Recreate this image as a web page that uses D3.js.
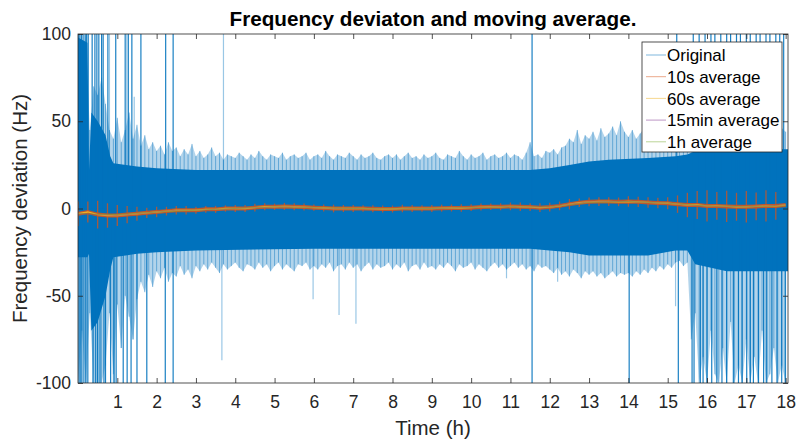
<!DOCTYPE html>
<html>
<head>
<meta charset="utf-8">
<script src="https://cdn.jsdelivr.net/npm/d3@7"></script>
<style>
  body { margin: 0; background: #fff; }
  text { font-family: "Liberation Sans", Arial, Helvetica, sans-serif; }
</style>
</head>
<body>
<script>
var w = 798;
var h = 439;

// x ticks (hours) and y ticks (Hz)
var xTicks = [1, 2, 3, 4, 5, 6, 7, 8, 9, 10, 11, 12, 13, 14, 15, 16, 17, 18];
var yTicks = [-100, -50, 0, 50, 100];

// Original signal, dense core envelope at breakpoints (h, Hz)
var coreT  = [0, 0.24, 0.28, 0.34, 0.5, 0.7, 0.82, 0.9, 1.5, 2, 3, 6, 9, 11.5, 12, 12.5, 13, 13.5, 14.5, 15.2, 15.5, 15.7, 16.5, 17.5, 18.06];
var coreHi = [98, 95, 22, 55, 50, 42, 30, 26, 24, 23, 22, 22, 22, 22, 23, 25, 27, 28, 29, 30, 31, 33, 34, 34, 34];
var coreLo = [-28, -28, -26, -70, -65, -50, -35, -28, -26, -25, -24, -23, -23, -23, -24, -25, -27, -27, -27, -24, -24, -32, -36, -36, -36];

// Original signal, outer fringe every 0.1 h (Hz)
var haloStep = 0.1;
var haloHi = [
  100, 85, 100, 45, 70, 65, 75, 60, 45, 40,
  52, 38, 45, 55, 40, 48, 36, 42, 34, 38,
  33, 36, 31, 38, 33, 35, 30, 34, 31, 37,
  30, 33, 29, 31, 35, 30, 32, 28, 31, 30,
  29, 32, 30, 28, 31, 29, 33, 30, 28, 31,
  30, 29, 32, 28, 30, 31, 29, 30, 32, 28,
  30, 31, 29, 33, 30, 28, 31, 30, 29, 32,
  30, 28, 31, 29, 30, 32, 29, 28, 30, 31,
  29, 31, 28, 30, 32, 29, 30, 28, 31, 29,
  30, 32, 29, 28, 31, 30, 29, 33, 30, 28,
  31, 29, 30, 32, 28, 30, 31, 29, 30, 32,
  29, 31, 30, 28, 32, 38, 30, 31, 29, 33,
  32, 34, 31, 35, 36, 40, 38, 45, 37, 42,
  40, 44, 39, 46, 41, 43, 47, 42, 50, 44,
  41, 45, 40, 43, 46, 41, 44, 40, 42, 45,
  40, 42, 44, 40, 43, 45, 42, 44, 41, 45,
  43, 45, 42, 44, 46, 43, 45, 42, 44, 46,
  43, 45, 44, 42, 46, 44, 45, 43, 44, 46, 44
];
var haloLo = [
  -100, -70, -100, -60, -100, -100, -100, -90, -60, -95,
  -55, -80, -50, -62, -75, -52, -42, -48, -38, -45,
  -36, -40, -34, -42, -37, -39, -33, -38, -35, -40,
  -33, -36, -32, -35, -31, -34, -37, -32, -35, -33,
  -31, -34, -36, -32, -33, -35, -31, -34, -32, -36,
  -33, -31, -35, -32, -34, -36, -32, -33, -31, -35,
  -33, -35, -32, -34, -31, -36, -33, -32, -35, -31,
  -34, -32, -36, -33, -31, -35, -32, -34, -33, -31,
  -35, -32, -34, -31, -36, -33, -32, -35, -31, -34,
  -33, -35, -32, -34, -31, -33, -36, -32, -34, -33,
  -31, -35, -32, -34, -36, -33, -31, -34, -32, -35,
  -33, -31, -34, -32, -35, -33, -36, -32, -34, -33,
  -35, -37, -34, -38, -36, -39, -35, -37, -40, -36,
  -38, -36, -39, -37, -40, -38, -36, -39, -37, -38,
  -37, -39, -36, -38, -35, -37, -34, -36, -33, -35,
  -32, -34, -31, -30, -33, -31, -75, -60, -100, -85,
  -100, -70, -95, -100, -80, -100, -65, -100, -90, -100,
  -75, -100, -85, -100, -70, -100, -95, -80, -100, -90, -100
];

// Original signal, single tall spikes [h, Hz]
var darkSpikes = [
  [0.02, 100], [0.05, 100], [0.09, 100], [0.13, 100], [0.18, 100], [0.22, 100], [0.26, 100],
  [0.36, 100], [0.43, 100], [0.48, 100], [0.53, 100], [0.6, 100], [0.64, 100], [0.76, 100],
  [0.96, 100], [1.2, 100], [1.28, 100], [1.37, 100], [1.6, 100], [2.23, 100], [2.42, 100],
  [11.55, 100], [15.23, 100], [15.65, 100], [15.8, 100], [15.95, 100], [16.1, 100], [16.2, 100],
  [16.35, 100], [16.5, 100], [16.6, 100], [16.75, 100], [16.85, 100], [17.0, 100], [17.1, 100],
  [17.25, 100], [17.35, 100], [17.5, 100], [17.6, 100], [17.75, 100], [17.85, 100], [17.95, 100],
  [0.03, -100], [0.07, -100], [0.1, -100], [0.15, -100], [0.2, -100], [0.25, -100], [0.38, -100],
  [0.45, -100], [0.5, -100], [0.56, -100], [0.66, -100], [0.7, -100], [0.83, -100], [0.92, -100],
  [0.97, -100], [1.15, -100], [1.25, -100], [1.35, -100], [1.5, -100], [1.75, -100], [2.22, -100],
  [2.42, -100], [11.55, -100], [14.02, -100], [15.27, -100], [15.62, -100], [15.67, -100],
  [15.83, -100], [15.9, -100], [16.0, -100], [16.12, -100], [16.25, -100], [16.38, -100],
  [16.5, -100], [16.67, -100], [16.8, -100], [16.89, -100], [17.01, -100], [17.1, -100],
  [17.18, -100], [17.31, -100], [17.44, -100], [17.52, -100], [17.65, -100], [17.78, -100],
  [17.9, -100], [17.99, -100]
];
var lightSpikes = [
  [0.8, 100], [1.24, 100], [1.43, 64], [3.7, 100], [1.1, -80], [1.4, -75], [0.9, -100],
  [3.66, -87], [5.98, -52], [6.64, -61], [7.07, -66], [15.2, -56], [10.9, -40], [12.2, -42]
];

// moving averages
var avgStep = 0.25;
var avg60 = [
  -3, -2, -3.5, -4, -4, -3.5, -3, -2.5, -2, -1.5, -1, -1, -1, -0.5, -0.5, 0,
  0, 0, 0.5, 1, 1, 1.2, 1, 0.8, 0.5, 0.3, 0, 0, 0, 0, -0.2, -0.3,
  -0.3, 0, 0, 0, 0, 0.2, 0.3, 0.3, 0.5, 0.8, 1, 1, 1.2, 1, 0.8, 0.5,
  0.8, 1.5, 2.5, 3.3, 3.8, 4, 4, 3.8, 4, 3.8, 3.5, 3.2, 3, 2.5, 2, 2,
  1.5, 1.5, 1.2, 1, 1, 1.2, 1.5, 1.5, 2
];
var tenSpread = [
  7, 6, 8, 7, 6, 5, 4, 3, 3, 2.5, 2.5, 2.5, 2,
  2, 2, 1.8, 2, 2, 2.2, 2, 1.8, 2, 2, 2, 1.8, 2, 2.2, 2, 2, 1.8,
  2, 2, 2, 2.2, 2, 1.8, 2, 2, 2, 2.2, 2, 2, 1.8, 2, 2.2, 2.5, 2.2,
  2.5, 2.5, 2.5, 3, 2.5, 2.5, 2.5, 2.5, 2.5, 3, 3, 3, 3, 3.5,
  5, 7, 8, 9, 8, 9, 8, 9, 8, 9, 8
];
var avg15Step = 0.5;
var avg15 = [
  -3, -3.5, -4, -3, -2, -1, -1, -0.5, 0, 0.5, 1, 1, 0.5, 0, 0, -0.2, -0.3, 0, 0,
  0.3, 0.5, 1, 1.2, 0.8, 0.8, 2.5, 3.8, 4, 4, 3.5, 3, 2, 1.5, 1.2, 1, 1.5, 2
];
var avg1h = [-3, -3.5, -2, -1, 0, 1, 0.5, 0, -0.2, 0, 0.5, 1, 0.8, 3.5, 4, 3, 1.5, 1, 1.5];

var legendNames = ["Original", "10s average", "60s average", "15min average", "1h average"];
var colors = ["#0072BD", "#D95319", "#EDB120", "#7E2F8E", "#77AC30"];

var plotL = 78, plotR = 788, plotT = 34, plotB = 383;

var x = d3.scaleLinear().domain([0, 18.06]).range([plotL, plotR]);
var y = d3.scaleLinear().domain([-100, 100]).range([plotB, plotT]);

var svg = d3.select("body").append("svg").attr("width", w).attr("height", h);
svg.append("rect").attr("width", w).attr("height", h).attr("fill", "#fff");

svg.append("clipPath").attr("id", "plot")
  .append("rect").attr("x", plotL).attr("y", plotT).attr("width", plotR - plotL).attr("height", plotB - plotT);

var g = svg.append("g").attr("clip-path", "url(#plot)");

// fringe (light blue, zig-zag between 0.1 h samples) plus thin hairs
var haloArea = d3.area()
  .x(function (d) { return x(d.t); })
  .y0(y(0))
  .y1(function (d) { return y(d.v); });
var hairs = [];
[haloHi, haloLo].forEach(function (arr) {
  var pts = arr.map(function (v, i) { return { t: i * haloStep, v: v }; });
  hairs = hairs.concat(pts);
  g.append("path")
    .datum(pts)
    .attr("d", haloArea)
    .attr("fill", colors[0])
    .attr("fill-opacity", 0.3);
});
g.selectAll("line.hair")
  .data(hairs)
  .enter()
  .append("line")
  .attr("class", "hair")
  .attr("x1", function (d) { return x(d.t); })
  .attr("x2", function (d) { return x(d.t); })
  .attr("y1", y(0))
  .attr("y2", function (d) { return y(d.v); })
  .attr("stroke", colors[0])
  .attr("stroke-width", 1)
  .attr("stroke-opacity", 0.45);

// light spikes
g.selectAll("line.light")
  .data(lightSpikes)
  .enter()
  .append("line")
  .attr("class", "light")
  .attr("x1", function (d) { return x(d[0]); })
  .attr("x2", function (d) { return x(d[0]); })
  .attr("y1", y(0))
  .attr("y2", function (d) { return y(d[1]); })
  .attr("stroke", colors[0])
  .attr("stroke-width", 1.2)
  .attr("stroke-opacity", 0.4);

// dense core
var core = coreT.map(function (t, i) { return { t: t, hi: coreHi[i], lo: coreLo[i] }; });
g.append("path")
  .datum(core)
  .attr("d", d3.area()
    .x(function (d) { return x(d.t); })
    .y0(function (d) { return y(d.lo); })
    .y1(function (d) { return y(d.hi); }))
  .attr("fill", colors[0]);

// tall spikes
g.selectAll("line.dark")
  .data(darkSpikes)
  .enter()
  .append("line")
  .attr("class", "dark")
  .attr("x1", function (d) { return x(d[0]); })
  .attr("x2", function (d) { return x(d[0]); })
  .attr("y1", y(0))
  .attr("y2", function (d) { return y(d[1]); })
  .attr("stroke", colors[0])
  .attr("stroke-width", 1.2)
  .attr("stroke-opacity", 0.9);

// 10s average: swing hairs + centre trace
var avgData = avg60.map(function (v, i) { return { t: i * avgStep, v: v, s: tenSpread[i] }; });
g.selectAll("line.ten")
  .data(avgData)
  .enter()
  .append("line")
  .attr("class", "ten")
  .attr("x1", function (d) { return x(d.t); })
  .attr("x2", function (d) { return x(d.t); })
  .attr("y1", function (d) { return y(d.v - d.s); })
  .attr("y2", function (d) { return y(d.v + d.s); })
  .attr("stroke", colors[1])
  .attr("stroke-width", 1.3)
  .attr("stroke-opacity", 0.75);

var line = d3.line()
  .x(function (d) { return x(d.t); })
  .y(function (d) { return y(d.v); });

g.append("path")
  .datum(avgData)
  .attr("d", line)
  .attr("fill", "none")
  .attr("stroke", colors[1])
  .attr("stroke-width", 4)
  .attr("stroke-opacity", 0.85);

// 60s average
g.append("path")
  .datum(avgData)
  .attr("d", line)
  .attr("fill", "none")
  .attr("stroke", colors[2])
  .attr("stroke-width", 1.3);

// 15min average
g.append("path")
  .datum(avg15.map(function (v, i) { return { t: i * avg15Step, v: v }; }))
  .attr("d", line)
  .attr("fill", "none")
  .attr("stroke", colors[3])
  .attr("stroke-width", 0.8)
  .attr("stroke-opacity", 0.6);

// 1h average
g.append("path")
  .datum(avg1h.map(function (v, i) { return { t: i, v: v }; }))
  .attr("d", line)
  .attr("fill", "none")
  .attr("stroke", colors[4])
  .attr("stroke-width", 0.8)
  .attr("stroke-opacity", 0.6);

// axes
var axisColor = "#262626";
function styleAxis(sel) {
  sel.select(".domain").remove();
  sel.selectAll(".tick line").attr("stroke", axisColor).attr("stroke-width", 0.8);
  sel.selectAll(".tick text")
    .attr("fill", axisColor)
    .style("font-size", "17.5px")
    .style("font-family", '"Liberation Sans", Arial, sans-serif');
}
var plainNum = function (d) { return String(d); };

svg.append("g")
  .attr("transform", "translate(0," + plotB + ")")
  .call(d3.axisBottom(x).tickValues(xTicks).tickSize(-5).tickPadding(12.5).tickFormat(plainNum))
  .call(styleAxis);
svg.append("g")
  .attr("transform", "translate(0," + plotT + ")")
  .call(d3.axisTop(x).tickValues(xTicks).tickSize(-5).tickFormat(""))
  .call(styleAxis);
svg.append("g")
  .attr("transform", "translate(" + plotL + ",0)")
  .call(d3.axisLeft(y).tickValues(yTicks).tickSize(-5).tickPadding(7).tickFormat(plainNum))
  .call(styleAxis);
svg.append("g")
  .attr("transform", "translate(" + plotR + ",0)")
  .call(d3.axisRight(y).tickValues(yTicks).tickSize(-5).tickFormat(""))
  .call(styleAxis);

svg.append("rect")
  .attr("x", plotL).attr("y", plotT)
  .attr("width", plotR - plotL).attr("height", plotB - plotT)
  .attr("fill", "none")
  .attr("stroke", axisColor)
  .attr("stroke-width", 0.8);

// title and labels
svg.append("text")
  .attr("x", (plotL + plotR) / 2)
  .attr("y", 26)
  .attr("text-anchor", "middle")
  .attr("font-size", "20.7px")
  .attr("font-weight", "bold")
  .attr("fill", "#000")
  .text("Frequency deviaton and moving average.");

svg.append("text")
  .attr("x", (plotL + plotR) / 2)
  .attr("y", 435)
  .attr("text-anchor", "middle")
  .attr("font-size", "20.5px")
  .attr("fill", axisColor)
  .text("Time (h)");

svg.append("text")
  .attr("transform", "translate(27," + (plotT + plotB) / 2 + ") rotate(-90)")
  .attr("text-anchor", "middle")
  .attr("font-size", "20.5px")
  .attr("fill", axisColor)
  .text("Frequency deviation (Hz)");

// legend
var lg = svg.append("g");
lg.append("rect")
  .attr("x", 642).attr("y", 42)
  .attr("width", 140).attr("height", 110)
  .attr("fill", "#fff")
  .attr("stroke", axisColor)
  .attr("stroke-width", 0.8);

var items = lg.selectAll("g.item")
  .data(legendNames)
  .enter()
  .append("g")
  .attr("class", "item")
  .attr("transform", function (d, i) { return "translate(0," + (55 + i * 21.7) + ")"; });

items.append("line")
  .attr("x1", 646).attr("x2", 666)
  .attr("stroke", function (d, i) { return colors[i]; })
  .attr("stroke-width", 1)
  .attr("stroke-opacity", 0.5);

items.append("text")
  .attr("x", 667)
  .attr("dy", "0.36em")
  .attr("font-size", "17px")
  .attr("fill", "#000")
  .text(function (d) { return d; });
</script>
</body>
</html>
